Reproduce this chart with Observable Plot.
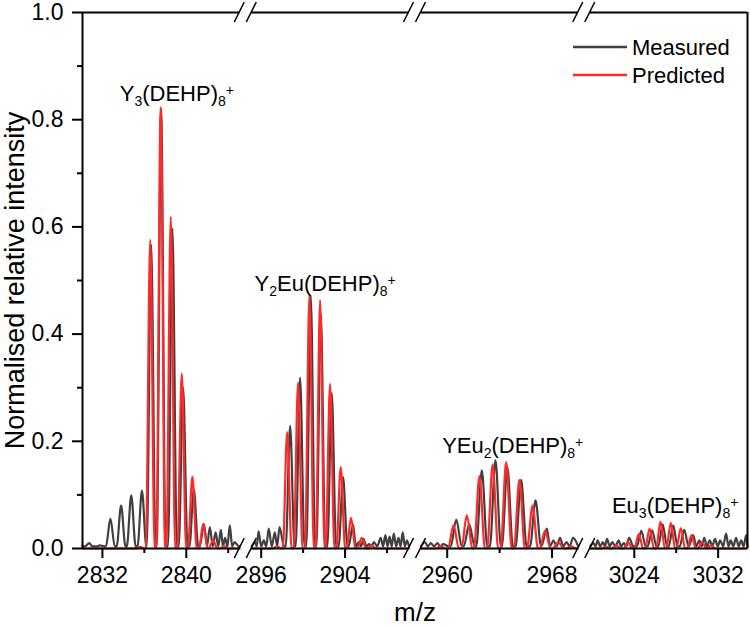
<!DOCTYPE html>
<html><head><meta charset="utf-8">
<script src="https://cdn.jsdelivr.net/npm/d3@7"></script>
<script src="https://cdn.jsdelivr.net/npm/@observablehq/plot@0.6"></script>
<style>body{margin:0;background:#fff} #chart{position:relative;width:750px;height:628px}</style>
</head><body><div id="chart"></div>
<script>
// ---- axis segments (broken x axis) and ticks ----
const segStart = [2830.1, 2895.1, 2958.0, 3019.8];
const segEnd   = [2845.1, 2910.1, 2970.0, 3034.8];
const xMajor = [2832, 2840, 2896, 2904, 2960, 2968, 3024, 3032];
const xMinor = [2836, 2844, 2900, 2908, 2964, 3028];
const yMajor = [0, 0.2, 0.4, 0.6, 0.8, 1.0];
const yMinor = [0.1, 0.3, 0.5, 0.7, 0.9];

// ---- measured spectrum (peak m/z, intensity) per segment ----
const measMz1 = [2830.75, 2831.3, 2831.75, 2832.76, 2833.78, 2834.75, 2835.77, 2836.65, 2837.6, 2838.68, 2839.7, 2840.72, 2841.7, 2842.25, 2842.8, 2843.3, 2843.7, 2844.15, 2844.6];
const measI1  = [0.01, 0.004, 0.006, 0.056, 0.08, 0.099, 0.108, 0.567, 0.82, 0.597, 0.30, 0.11, 0.045, 0.04, 0.03, 0.035, 0.02, 0.043, 0.012];
const measMz2 = [2895.4, 2895.75, 2896.25, 2896.72, 2897.3, 2897.75, 2898.76, 2899.71, 2900.73, 2901.69, 2902.73, 2903.81, 2904.76, 2905.3, 2905.75, 2906.3, 2906.75, 2907.4, 2907.85, 2908.25, 2908.65, 2909.1, 2909.5, 2909.9];
const measI2  = [0.012, 0.032, 0.015, 0.037, 0.03, 0.04, 0.229, 0.319, 0.472, 0.438, 0.29, 0.133, 0.045, 0.012, 0.018, 0.008, 0.012, 0.02, 0.025, 0.022, 0.028, 0.02, 0.03, 0.015];
const measMz3 = [2958.3, 2958.75, 2959.25, 2959.7, 2960.69, 2961.68, 2962.64, 2963.68, 2964.59, 2965.64, 2966.74, 2967.6, 2968.1, 2968.61, 2969.1, 2969.6];
const measI3  = [0.012, 0.01, 0.01, 0.008, 0.054, 0.045, 0.146, 0.165, 0.152, 0.128, 0.09, 0.037, 0.015, 0.02, 0.012, 0.02];
const measMz4 = [3020.1, 3020.5, 3021.0, 3021.4, 3021.9, 3022.5, 3023.0, 3023.5, 3024.67, 3025.7, 3026.71, 3027.71, 3028.76, 3029.62, 3030.2, 3030.67, 3031.2, 3031.7, 3032.2, 3032.76, 3033.2, 3033.71, 3034.2, 3034.67];
const measI4  = [0.01, 0.015, 0.012, 0.018, 0.012, 0.015, 0.01, 0.02, 0.033, 0.034, 0.045, 0.043, 0.035, 0.025, 0.015, 0.02, 0.015, 0.018, 0.015, 0.028, 0.015, 0.02, 0.015, 0.025];

// ---- predicted spectrum per segment ----
const predMz1 = [2835.6, 2836.56, 2837.56, 2838.52, 2839.57, 2840.58, 2841.62, 2842.55, 2843.6];
const predI1  = [0.003, 0.576, 0.823, 0.619, 0.327, 0.134, 0.046, 0.015, 0.004];
const predMz2 = [2897.5, 2898.48, 2899.52, 2900.6, 2901.62, 2902.57, 2903.59, 2904.57, 2905.59, 2906.54];
const predI2  = [0.004, 0.217, 0.31, 0.472, 0.463, 0.307, 0.152, 0.057, 0.02, 0.006];
const predMz3 = [2959.5, 2960.48, 2961.5, 2962.46, 2963.47, 2964.5, 2965.51, 2966.51, 2967.47, 2968.48, 2969.45];
const predI3  = [0.004, 0.043, 0.062, 0.135, 0.157, 0.161, 0.128, 0.08, 0.033, 0.012, 0.004];
const predMz4 = [3021.3, 3022.29, 3023.4, 3024.43, 3025.46, 3026.5, 3027.48, 3028.44, 3029.46, 3030.48, 3031.33];
const predI4  = [0.003, 0.006, 0.012, 0.027, 0.037, 0.05, 0.048, 0.038, 0.025, 0.012, 0.006];

// ---- annotations ----
const annotParts = [
  [["Y",0],["3",1],["(DEHP)",0],["8",1],["+",2]],
  [["Y",0],["2",1],["Eu(DEHP)",0],["8",1],["+",2]],
  [["YEu",0],["2",1],["(DEHP)",0],["8",1],["+",2]],
  [["Eu",0],["3",1],["(DEHP)",0],["8",1],["+",2]]
];
const annotMz = [2839.1, 2902.1, 2965.0, 3027.9];
const annotI  = [0.834, 0.481, 0.179, 0.067];
const seriesNames = ["Measured", "Predicted"];
const xLabel = "m/z";
const yLabel = "Normalised relative intensity";

// ---- layout ----
const W = 750, H = 628, mL = 82, mR = 3, mT = 12, mB = 80, gap = 12;
const segW = (W - mL - mR - gap * (segStart.length - 1)) / segStart.length;
const xDomain = [], xRange = [];
segStart.forEach((s, i) => {
  xDomain.push(s, segEnd[i]);
  const p0 = mL + i * (segW + gap);
  xRange.push(p0, p0 + segW);
});

function profile(mz, inten, seg, base, hwMax) {
  const raw = [{x: segStart[seg], y: base}];
  for (let i = 0; i < mz.length; i++) {
    const prev = i > 0 ? mz[i - 1] : -Infinity, next = i < mz.length - 1 ? mz[i + 1] : Infinity;
    const hwL = Math.min(hwMax, (mz[i] - prev) / 2), hwR = Math.min(hwMax, (next - mz[i]) / 2);
    raw.push({x: mz[i] - hwL, y: base}, {x: mz[i], y: inten[i]}, {x: mz[i] + hwR, y: base});
  }
  raw.push({x: segEnd[seg], y: base});
  const out = [];
  for (const p of raw) {
    const x = Math.max(segStart[seg], Math.min(segEnd[seg], p.x));
    if (out.length && x <= out[out.length - 1].x + 1e-6) continue;
    out.push({x, y: p.y, seg});
  }
  return out;
}
const HW = 0.42;
const measData = [
  ...profile(measMz1, measI1, 0, 0.004, HW), ...profile(measMz2, measI2, 1, 0.004, HW),
  ...profile(measMz3, measI3, 2, 0.004, HW), ...profile(measMz4, measI4, 3, 0.004, HW)];
const predData = [
  ...profile(predMz1, predI1, 0, 0, HW), ...profile(predMz2, predI2, 1, 0, HW),
  ...profile(predMz3, predI3, 2, 0, HW), ...profile(predMz4, predI4, 3, 0, HW)];
const segIdx = segStart.map((_, i) => i);
const annots = annotParts.map((p, i) => ({text: p.map(d => d[0]).join(""), x: annotMz[i], y: annotI[i]}));

const measColor = "#404040", predColor = "#ff2a2a";
const FONT = "'Liberation Sans', Arial, sans-serif";

const chart = Plot.plot({
  width: W, height: H, marginLeft: mL, marginRight: mR, marginTop: mT, marginBottom: mB,
  style: {fontFamily: FONT, color: "black", background: "white", overflow: "visible"},
  x: {type: "linear", domain: xDomain, range: xRange},
  y: {domain: [0, 1]},
  marks: [
    Plot.line(measData, {x: "x", y: "y", z: "seg", stroke: measColor, strokeWidth: 2.2, curve: "monotone-x"}),
    Plot.line(predData, {x: "x", y: "y", z: "seg", stroke: predColor, strokeWidth: 2.2, curve: "monotone-x"}),
    Plot.ruleY(segIdx, {y: 0, x1: i => segStart[i], x2: i => segEnd[i], stroke: "black", strokeWidth: 2}),
    Plot.ruleY(segIdx, {y: 1, x1: i => segStart[i], x2: i => segEnd[i], stroke: "black", strokeWidth: 2}),
    Plot.ruleX([segStart[0], segEnd[segEnd.length - 1]], {y1: 0, y2: 1, stroke: "black", strokeWidth: 2}),
    Plot.axisY({ticks: yMajor, tickSize: 10, tickPadding: 9, tickFormat: d3.format(".1f"), fontSize: 23, strokeWidth: 2, label: null}),
    Plot.axisY({ticks: yMinor, tickSize: 5, tickFormat: () => "", strokeWidth: 2, label: null}),
    Plot.axisX({ticks: xMajor, tickSize: 10, tickPadding: 8, tickFormat: d3.format("d"), fontSize: 23, strokeWidth: 2, label: null}),
    Plot.axisX({ticks: xMinor, tickSize: 5, tickFormat: () => "", strokeWidth: 2, label: null}),
    Plot.text(annots, {x: "x", y: "y", text: "text", textAnchor: "middle", lineAnchor: "bottom", fontSize: 22, fill: "black"}),
    Plot.text([yLabel], {text: d => d, frameAnchor: "left", rotate: -90, dx: -67, textAnchor: "middle", lineAnchor: "middle", fontSize: 27, fill: "black"}),
    Plot.text([xLabel], {text: d => d, frameAnchor: "bottom", dy: 64, textAnchor: "middle", lineAnchor: "middle", fontSize: 26, fill: "black"})
  ]
});
document.getElementById("chart").appendChild(chart);

// ---- subscripts / superscripts in annotations ----
const svg = d3.select(chart);
const plain = annots.map(a => a.text);
svg.selectAll("text").each(function () {
  const k = plain.indexOf(this.textContent);
  if (k < 0) return;
  const t = d3.select(this);
  t.text(null);
  let shift = 0;
  for (const [s, kind] of annotParts[k]) {
    const target = kind === 1 ? 5 : kind === 2 ? -6 : 0;
    const sp = t.append("tspan").attr("dy", target - shift).text(s);
    if (kind) sp.attr("font-size", 14);
    shift = target;
  }
});

// ---- axis break marks ----
const xs = chart.scale("x"), ys = chart.scale("y");
const brk = svg.append("g").attr("stroke", "black").attr("stroke-width", 1.6);
for (let i = 0; i < segStart.length - 1; i++) {
  for (const v of [segEnd[i], segStart[i + 1]]) {
    const px = xs.apply(v);
    for (const yv of [0, 1]) {
      const py = ys.apply(yv);
      brk.append("line").attr("x1", px - 5).attr("y1", py + 10).attr("x2", px + 5).attr("y2", py - 10);
    }
  }
}

// ---- legend ----
const lg = svg.append("g").attr("font-family", FONT).attr("font-size", 22).attr("text-anchor", "start");
[measColor, predColor].forEach((c, i) => {
  const y = 47 + i * 28;
  lg.append("line").attr("x1", 573).attr("x2", 627).attr("y1", y).attr("y2", y).attr("stroke", c).attr("stroke-width", 2.5);
  lg.append("text").attr("x", 632).attr("y", y).attr("dy", "0.35em").attr("fill", "black").text(seriesNames[i]);
});
</script>
</body></html>
